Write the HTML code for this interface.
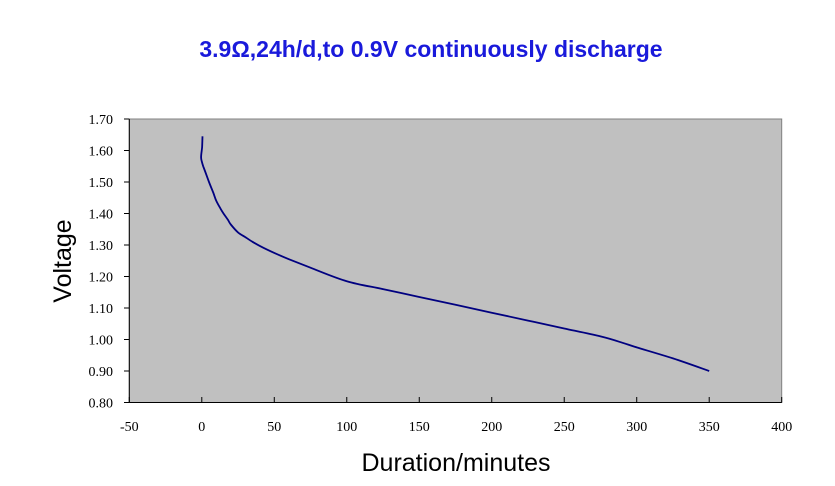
<!DOCTYPE html>
<html><head><meta charset="utf-8"><style>
body{margin:0;background:#fff;width:835px;height:481px;overflow:hidden}
svg text{font-family:"Liberation Serif",serif}
</style></head><body>
<svg width="835" height="481">
<text x="431" y="57" text-anchor="middle" font-size="23" font-weight="bold" fill="#1a1adb" style="font-family:'Liberation Sans',sans-serif">3.9Ω,24h/d,to 0.9V continuously discharge</text>
<rect x="129.3" y="119" width="652.4" height="283.5" fill="#c0c0c0" stroke="#808080" stroke-width="1"/>
<g id="axes"></g>
<path id="line" fill="none" stroke="#000080" stroke-width="1.8" stroke-linejoin="round"/>
<text transform="translate(71,261) rotate(-90)" text-anchor="middle" font-size="25" style="font-family:'Liberation Sans',sans-serif">Voltage</text>
<text x="456" y="471" text-anchor="middle" font-size="25" style="font-family:'Liberation Sans',sans-serif">Duration/minutes</text>
</svg>
<script>
const xTicks=[-50,0,50,100,150,200,250,300,350,400];
const yTicks=[0.8,0.9,1.0,1.1,1.2,1.3,1.4,1.5,1.6,1.7];
const minutes=[0.5,0.2,-0.5,0,1,3,5,8,10,13,15,18,20,25,30,35,40,50,60,75,100,125,150,175,200,225,250,275,290,300,325,350];
const volts=[1.645,1.61,1.58,1.565,1.55,1.525,1.50,1.465,1.44,1.415,1.40,1.38,1.365,1.34,1.325,1.31,1.297,1.275,1.255,1.228,1.185,1.16,1.135,1.11,1.085,1.06,1.035,1.01,0.99,0.975,0.94,0.90];
const X=v=>129.3+(v+50)/450*652.4;
const Y=v=>402.5-(v-0.8)/0.9*283.5;
const NS="http://www.w3.org/2000/svg";
const g=document.getElementById('axes');
function mk(t,a){const e=document.createElementNS(NS,t);for(const k in a)e.setAttribute(k,a[k]);return e;}
const xl=mk('line',{x1:129.3,x2:781.7,y1:402.5,y2:402.5,stroke:'#000'});


g.appendChild(xl);
const yl=mk('line',{x1:129.3,x2:129.3,y1:119,y2:402.5,stroke:'#000'});


g.appendChild(yl);
xTicks.forEach(t=>{
 const l=mk('line',{x1:X(t),x2:X(t),y1:402.5,y2:397,stroke:'#000'});
 
 
 g.appendChild(l);
 const tx=mk('text',{x:X(t),y:431,'text-anchor':'middle','font-size':14});
 tx.textContent=t;
 
 
 g.appendChild(tx);
});
yTicks.forEach(t=>{
 const l=mk('line',{x1:124,x2:129.3,y1:Y(t),y2:Y(t),stroke:'#000'});
 
 
 g.appendChild(l);
 const tx=mk('text',{x:113,y:Y(t)+5,'text-anchor':'end','font-size':14});
 tx.textContent=t.toFixed(2);
 
 
 g.appendChild(tx);
});
const pts=minutes.map((m,i)=>[X(m),Y(volts[i])]);
let d='M'+pts[0][0].toFixed(1)+','+pts[0][1].toFixed(1);
for(let i=0;i<pts.length-1;i++){
 const p0=pts[Math.max(0,i-1)],p1=pts[i],p2=pts[i+1],p3=pts[Math.min(pts.length-1,i+2)];
 const c1=[p1[0]+(p2[0]-p0[0])/6,p1[1]+(p2[1]-p0[1])/6];
 const c2=[p2[0]-(p3[0]-p1[0])/6,p2[1]-(p3[1]-p1[1])/6];
 d+='C'+c1.map(v=>v.toFixed(1)).join(',')+' '+c2.map(v=>v.toFixed(1)).join(',')+' '+p2.map(v=>v.toFixed(1)).join(',');
}
document.getElementById('line').setAttribute('d',d);
</script>
</body></html>
